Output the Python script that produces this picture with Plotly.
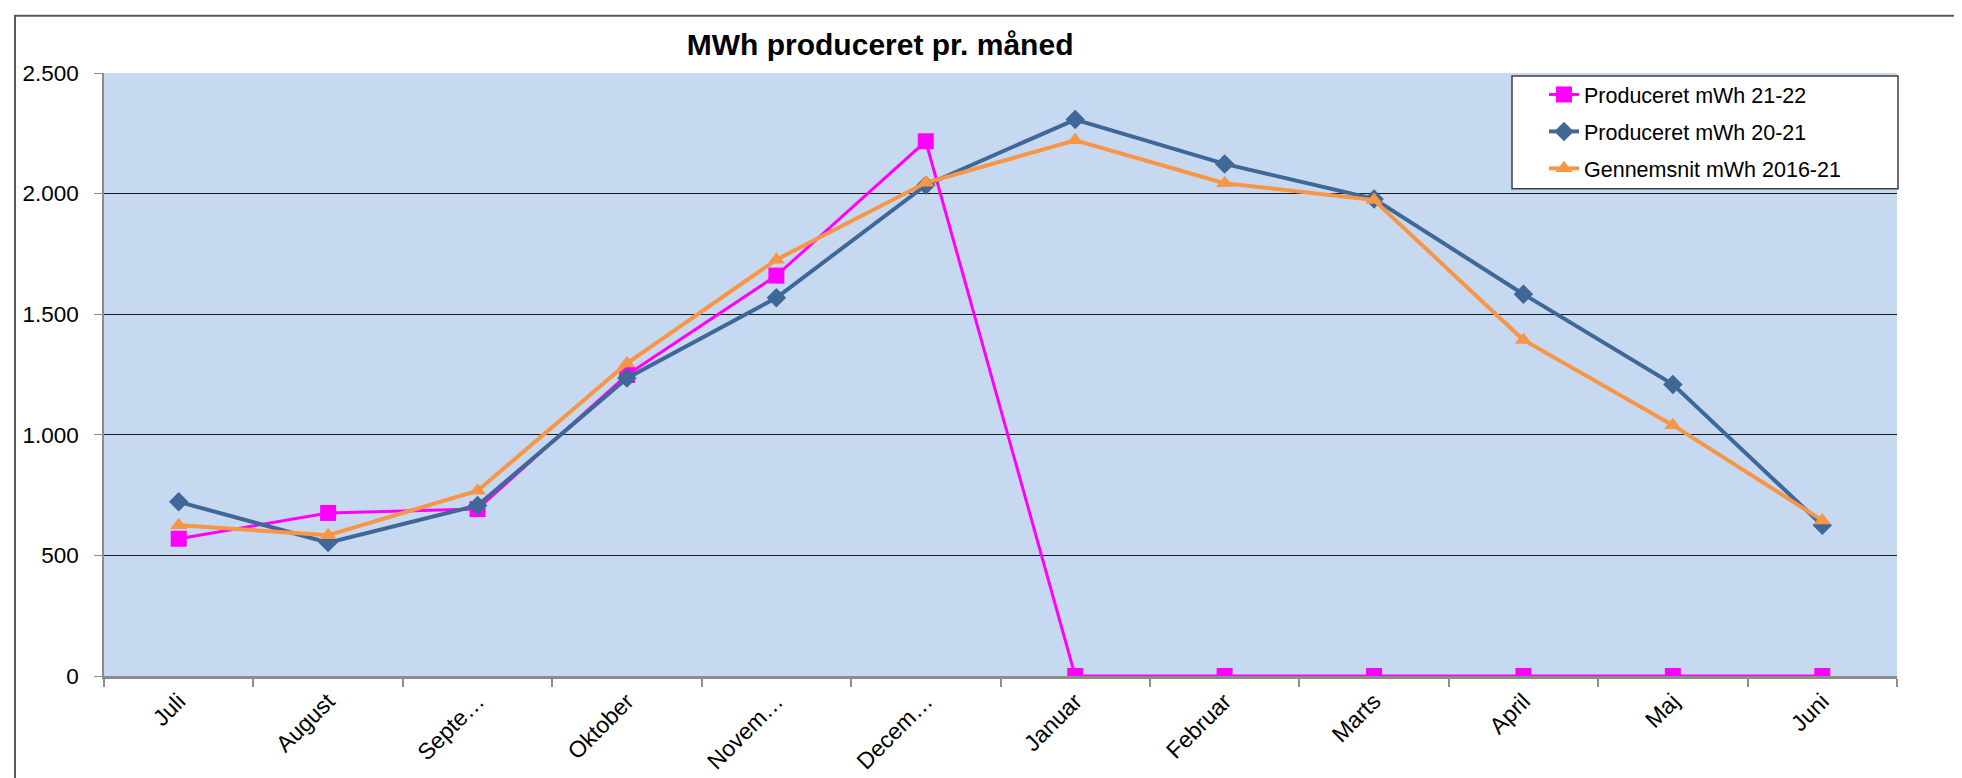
import plotly.graph_objects as go

months = ["Juli", "August", "September", "Oktober", "November", "December",
          "Januar", "Februar", "Marts", "April", "Maj", "Juni"]
tick_labels = ["Juli", "August", "Septe…", "Oktober", "Novem…", "Decem…",
               "Januar", "Februar", "Marts", "April", "Maj", "Juni"]
prod_21_22 = [569, 676, 692, 1248, 1660, 2217, 0, 0, 0, 0, 0, 0]
prod_20_21 = [722, 553, 707, 1235, 1568, 2035, 2307, 2123, 1978, 1583, 1209, 625]
avg_2016_21 = [625, 584, 768, 1296, 1726, 2045, 2221, 2043, 1973, 1393, 1040, 645]

W, H = 1962, 778
L, R, T, B = 96, 1889, 65, 675
pw, ph = R - L, B - T

def px(x):
    return (x - L) / pw

def py(y):
    return (B - y) / ph

FONT = "Liberation Sans, Arial, sans-serif"

fig = go.Figure()
fig.add_trace(go.Scatter(x=months, y=prod_21_22, name="Produceret mWh 21-22",
                         mode="lines+markers", legendgroup="a",
                         line=dict(color="#FF00FF", width=3),
                         marker=dict(symbol="square", size=16, color="#FF00FF")))
fig.add_trace(go.Scatter(x=months, y=prod_20_21, name="Produceret mWh 20-21",
                         mode="lines+markers", legendgroup="b",
                         line=dict(color="#3F6899", width=4),
                         marker=dict(symbol="diamond", size=15, color="#3F6899")))
fig.add_trace(go.Scatter(x=months, y=avg_2016_21, name="Gennemsnit mWh 2016-21",
                         mode="lines+markers", legendgroup="c",
                         line=dict(color="#F79646", width=4),
                         marker=dict(symbol="triangle-up", size=15, color="#F79646")))

fig.update_layout(
    width=W, height=H,
    margin=dict(l=L, r=W - R, t=T, b=H - B),
    paper_bgcolor="white",
    plot_bgcolor="#C6D9F0",
    separators=",.",
    font=dict(family=FONT, size=21, color="black"),
    title=dict(text="<b>MWh produceret pr. måned</b>", x=px(893), xanchor="center",
               y=1 - 36 / H, yanchor="middle",
               font=dict(size=30, family=FONT, color="black")),
    showlegend=True,
    legend=dict(x=px(1536), y=py(66), xanchor="left", yanchor="top",
                bgcolor="rgba(0,0,0,0)", borderwidth=0,
                font=dict(size=21.5, family=FONT), traceorder="grouped",
                tracegroupgap=6),
    xaxis=dict(type="category", categoryorder="array", categoryarray=months,
               tickmode="array", tickvals=months, ticktext=tick_labels,
               tickangle=-45, range=[-0.5, 11.5],
               showgrid=False, zeroline=False,
               showline=True, linecolor="#8C8C8C", linewidth=2.5,
               ticks="outside", tickson="boundaries", ticklen=8,
               tickcolor="#8C8C8C", tickwidth=1.5,
               tickfont=dict(size=23)),
    yaxis=dict(range=[0, 2500], tickvals=[0, 500, 1000, 1500, 2000, 2500],
               tickformat=",d",
               showgrid=True, gridcolor="#1A1A1A", gridwidth=1.2,
               zeroline=False,
               showline=True, linecolor="#8C8C8C", linewidth=1.5,
               ticks="outside", ticklen=8, tickcolor="#8C8C8C",
               ticklabelstandoff=11,
               tickfont=dict(size=22.5)),
    shapes=[
        dict(type="rect", xref="paper", yref="paper",
             x0=px(7), x1=px(1957), y0=py(800), y1=py(7),
             line=dict(color="#5A5A5A", width=2), fillcolor="rgba(0,0,0,0)",
             layer="below"),
        dict(type="rect", xref="paper", yref="paper",
             x0=px(1504), x1=px(1890), y0=py(182), y1=py(68),
             line=dict(color="#404040", width=1.5), fillcolor="white",
             layer="above"),
    ],
)

fig.write_html("out.html")
